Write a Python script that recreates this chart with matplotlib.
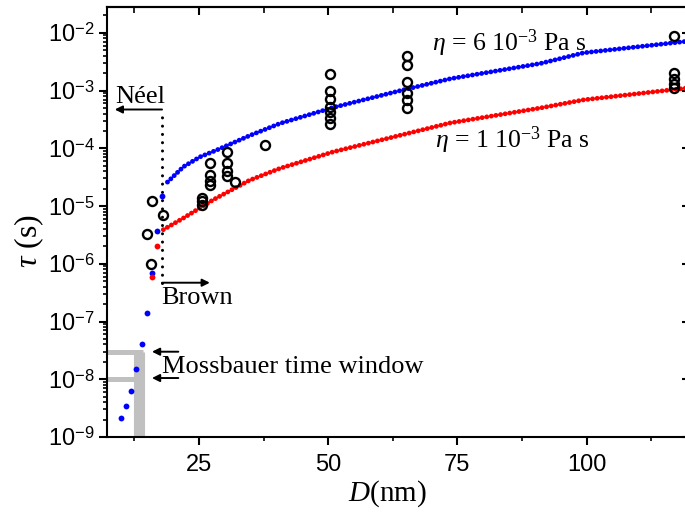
import numpy as np
import matplotlib
matplotlib.use("Agg")
import matplotlib.pyplot as plt
from matplotlib.ticker import FixedLocator, FuncFormatter, LogLocator, NullFormatter

plt.rcParams["font.family"] = ["Liberation Sans", "DejaVu Sans"]
plt.rcParams["mathtext.fontset"] = "custom"
plt.rcParams["mathtext.rm"] = "Liberation Serif"
plt.rcParams["mathtext.it"] = "Liberation Serif:italic"
plt.rcParams["mathtext.sf"] = "Liberation Sans"
plt.rcParams["mathtext.bf"] = "Liberation Serif:bold"

# ---------------------------------------------------------------------------
# Data: relaxation time vs particle diameter
# ---------------------------------------------------------------------------
# Neel-dominated small particles
neel_blue_d = [9.9, 10.85, 11.8, 12.8, 13.9, 14.86, 15.95, 16.9, 17.9]
neel_blue_tau = [2.1e-9, 3.5e-9, 6.3e-9, 1.5e-8, 4.1e-8, 1.4e-7, 6.9e-7, 3.7e-6, 1.5e-5]
neel_red_d = [15.95, 16.9]
neel_red_tau = [5.9e-7, 2.0e-6]

# Brown relaxation, eta = 6e-3 Pa s
brown6_d = [18.9, 22.0, 25.2, 28.4, 34.8, 40.7, 51.0, 64.0, 73.6, 91.1, 99.4, 119.2]
brown6_tau = [2.6e-5, 4.8e-5, 7.1e-5, 9.3e-5, 1.66e-4, 2.7e-4, 5.1e-4, 1.0e-3,
              1.6e-3, 2.95e-3, 4.5e-3, 7.1e-3]

# Brown relaxation, eta = 1e-3 Pa s
brown1_d = [18.1, 22.0, 27.8, 34.8, 40.7, 51.0, 73.6, 91.1, 99.4, 119.2]
brown1_tau = [3.9e-6, 6.2e-6, 1.29e-5, 2.8e-5, 4.5e-5, 8.7e-5, 2.75e-4, 5.0e-4,
              6.9e-4, 1.1e-3]

# measured values
meas_d = [14.9, 16.0, 15.8, 17.95,
          25.6, 25.6, 25.6,
          27.1, 27.1, 27.1, 27.1,
          30.5, 30.5, 30.5, 30.5,
          32.0, 37.8,
          50.4, 50.4, 50.4, 50.4, 50.4, 50.4, 50.4,
          65.2, 65.2, 65.2, 65.2, 65.2, 65.2,
          116.9, 116.9, 116.9, 116.9, 116.9]
meas_tau = [3.3e-6, 1.2e-5, 1.0e-6, 7.1e-6,
            1.38e-5, 1.2e-5, 1.05e-5,
            5.5e-5, 3.5e-5, 2.75e-5, 2.35e-5,
            8.5e-5, 5.5e-5, 4.0e-5, 3.3e-5,
            2.6e-5, 1.15e-4,
            1.95e-3, 1.0e-3, 7.1e-4, 5.2e-4, 4.2e-4, 3.3e-4, 2.6e-4,
            4.0e-3, 2.8e-3, 1.4e-3, 9.1e-4, 6.9e-4, 5.0e-4,
            8.7e-3, 2.0e-3, 1.6e-3, 1.3e-3, 1.1e-3]

# Neel / Brown crossover and Mossbauer window
d_cross = 17.85
tau_neel_arrow = 4.7e-4
tau_brown_arrow = 4.7e-7
moss_lo, moss_hi = 1.0e-8, 3.0e-8
moss_d = 13.3

x_min, x_max = 7.2, 120.0
y_min, y_max = 1e-9, 2.8e-2

# ---------------------------------------------------------------------------
# Figure
# ---------------------------------------------------------------------------
fig = plt.figure(figsize=(6.85, 5.12), dpi=100)
ax = fig.add_axes([0.1562, 0.1465, 0.851, 0.8398])
ax.set_yscale("log")
ax.set_xlim(x_min, x_max)
ax.set_ylim(y_min, y_max)

gray = "#c0c0c0"
# Mossbauer time window bracket
ax.plot([moss_d, moss_d], [y_min, moss_hi], color=gray, lw=8, solid_capstyle="butt", zorder=1)
ax.plot([x_min, moss_d + 0.9], [moss_hi, moss_hi], color=gray, lw=3.6, solid_capstyle="butt", zorder=1)
ax.plot([x_min, moss_d], [moss_lo, moss_lo], color=gray, lw=3.6, solid_capstyle="butt", zorder=1)

# Neel / Brown separation
ax.plot([d_cross, d_cross], [tau_brown_arrow, tau_neel_arrow], color="k", lw=2.2,
        linestyle=(0, (0.01, 2.7)), dash_capstyle="round", zorder=2)

# Brown curves as dense dots
dots = (0, (0.01, 0.95))
ax.plot(brown6_d, brown6_tau, color="#0000ff", lw=3.5, linestyle=dots,
        dash_capstyle="round", zorder=3)
ax.plot(brown1_d, brown1_tau, color="#ff0000", lw=3.5, linestyle=dots,
        dash_capstyle="round", zorder=3)

ax.plot(neel_blue_d, neel_blue_tau, "o", color="#0000ff", ms=4.2, mew=0, zorder=3)
ax.plot(neel_red_d, neel_red_tau, "o", color="#ff0000", ms=4.2, mew=0, zorder=3)

ax.plot(meas_d, meas_tau, "o", mfc="none", mec="k", ms=6.5, mew=1.7, zorder=4)

# arrows
arrow_kw = dict(arrowstyle="-|>", color="k", lw=1.4, mutation_scale=11,
                shrinkA=0, shrinkB=0)
ax.annotate("", xy=(8.7, tau_neel_arrow), xytext=(d_cross, tau_neel_arrow), arrowprops=arrow_kw)
ax.annotate("", xy=(27.1, tau_brown_arrow), xytext=(d_cross, tau_brown_arrow), arrowprops=arrow_kw)
ax.annotate("", xy=(15.9, moss_hi), xytext=(21.0, moss_hi), arrowprops=arrow_kw)
ax.annotate("", xy=(15.9, 1.05e-8), xytext=(21.0, 1.05e-8), arrowprops=arrow_kw)

serif = "Liberation Serif"
ax.text(8.7, 6.2e-4, "Néel", family=serif, fontsize=19, va="baseline", ha="left")
ax.text(17.6, 2.0e-7, "Brown", family=serif, fontsize=19, va="baseline", ha="left")
ax.text(17.8, 1.3e-8, "Mossbauer time window", family=serif, fontsize=19,
        va="baseline", ha="left")
ax.text(70.1, 4.95e-3, r"$\eta$ = 6 10$^{\mathrm{-3}}$ Pa s", family=serif,
        fontsize=18.5, va="baseline", ha="left")
ax.text(70.7, 1.02e-4, r"$\eta$ = 1 10$^{\mathrm{-3}}$ Pa s", family=serif,
        fontsize=18.5, va="baseline", ha="left")

# ticks
ax.xaxis.set_major_locator(FixedLocator([25, 50, 75, 100]))
ax.xaxis.set_minor_locator(FixedLocator([12.5, 37.5, 62.5, 87.5, 112.5]))
ax.yaxis.set_major_locator(LogLocator(base=10, numticks=20))
ax.yaxis.set_minor_locator(LogLocator(base=10, subs=np.arange(2, 10), numticks=20))
ax.yaxis.set_minor_formatter(NullFormatter())
ax.yaxis.set_major_formatter(FuncFormatter(
    lambda v, pos: r"10$^{\mathsf{%d}}$" % int(round(np.log10(v)))))
ax.tick_params(axis="both", which="major", direction="out", length=6, width=1.5,
               labelsize=17, pad=3)
ax.tick_params(axis="both", which="minor", direction="out", length=3, width=1.2)
ax.tick_params(axis="x", which="major", pad=6)

top = ax.secondary_xaxis("top")
top.xaxis.set_major_locator(FixedLocator([25, 50, 75, 100]))
top.xaxis.set_minor_locator(FixedLocator([12.5, 37.5, 62.5, 87.5, 112.5]))
top.tick_params(which="major", direction="in", length=6, width=1.5, labeltop=False)
top.tick_params(which="minor", direction="in", length=4, width=1.2)

right = ax.secondary_yaxis("right")
right.tick_params(which="major", direction="in", length=6, width=1.5, labelright=False)
right.tick_params(which="minor", direction="in", length=3, width=1.2)

for sp in ax.spines.values():
    sp.set_linewidth(1.5)
for sax in (top, right):
    for sp in sax.spines.values():
        sp.set_linewidth(1.5)

fig.text(0.566, 0.035, r"$D$(nm)", family=serif, fontsize=21, ha="center", va="center")
fig.text(0.042, 0.53, r"$\tau$ (s)", family=serif, fontsize=23, ha="center",
         va="center", rotation=90)

fig.savefig("out.png", dpi=100)
